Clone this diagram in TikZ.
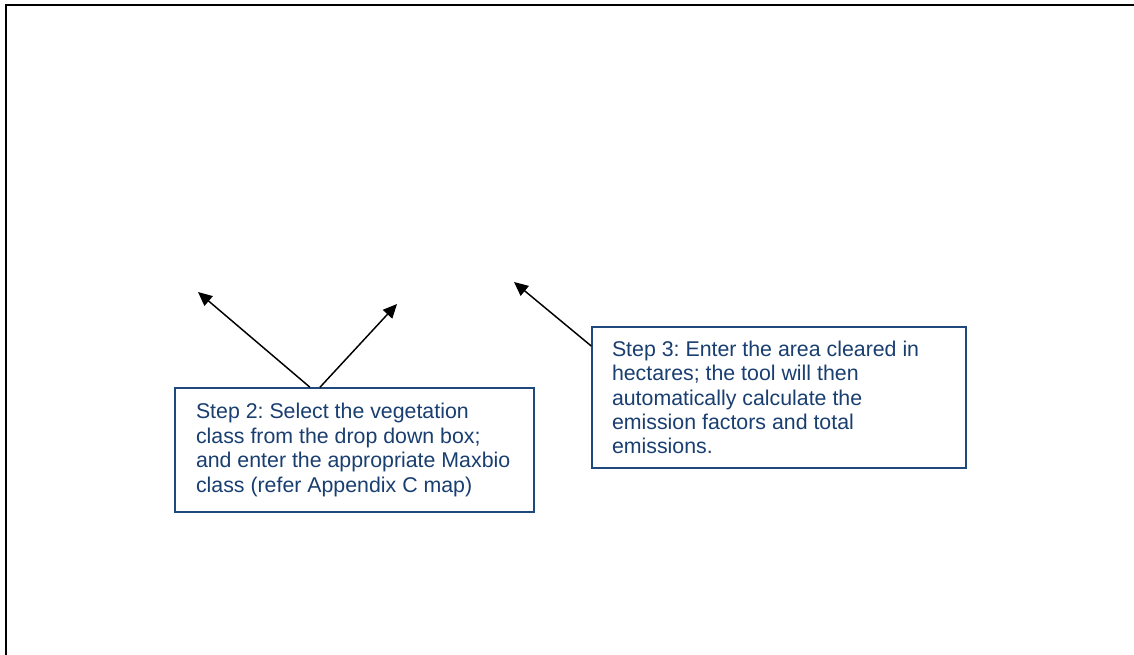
\documentclass[tikz,border=0pt]{standalone}
\usepackage{fontspec}
\setmainfont{Liberation Sans}
\usetikzlibrary{arrows.meta}
\definecolor{boxblue}{RGB}{31,73,125}
\definecolor{textblue}{RGB}{25,62,112}
\tikzset{
  stepbox/.style={draw=boxblue,line width=1.1pt,fill=white,text=textblue,
    align=flush left,inner ysep=0pt,
    font=\fontsize{16}{18.3}\selectfont\frenchspacing},
  pointer/.style={line width=1.1pt,-{Triangle[length=10.5pt,width=9.5pt]}}
}
\begin{document}
\begin{tikzpicture}[x=0.75pt,y=-0.75pt]
\useasboundingbox (0,0) rectangle (1134,655);
% frame
\draw [line width=1.5pt] (6,655) -- (6,5) -- (1134,5);
% step boxes
\node [stepbox,text width=237.75pt,inner xsep=15.75pt,minimum height=93pt]
  (step2) at (354.5,450)
  {Step 2: Select the vegetation\\class from the drop down box;\\and enter the appropriate Maxbio\\class (refer Appendix C map)};
\node [stepbox,text width=250.5pt,inner xsep=15pt,minimum height=105.75pt]
  (step3) at (779,397.5)
  {Step 3: Enter the area cleared in\\hectares; the tool will then\\automatically calculate the\\emission factors and total\\emissions.};
% arrow tips
\coordinate (vegclass) at (198,292);
\coordinate (maxbio) at (397,304);
\coordinate (area) at (514,282);
% arrows
\draw [pointer] ([xshift=-33.4pt]step2.north) -- (vegclass);
\draw [pointer] ([xshift=-25.9pt]step2.north) -- (maxbio);
\draw [pointer] ([yshift=38.6pt]step3.west) -- (area);
\end{tikzpicture}
\end{document}
